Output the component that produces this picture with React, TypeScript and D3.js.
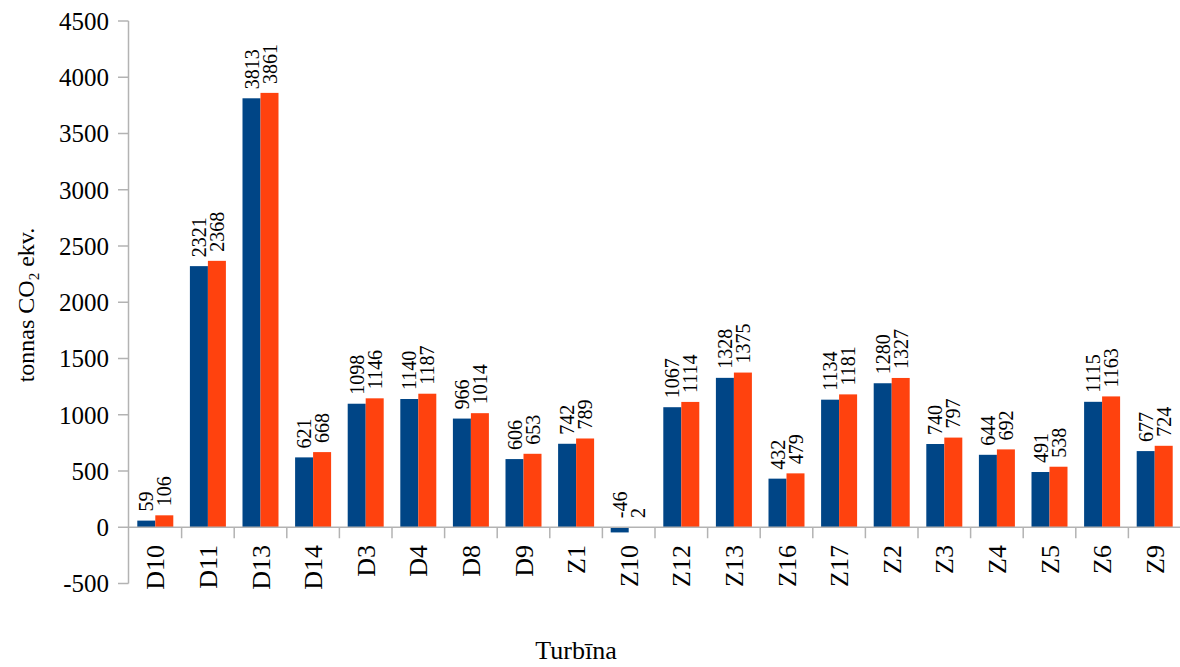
import React from "react";
import * as d3 from "d3";

const categories = ["D10","D11","D13","D14","D3","D4","D8","D9","Z1","Z10","Z12","Z13","Z16","Z17","Z2","Z3","Z4","Z5","Z6","Z9"];
const seriesA = [59,2321,3813,621,1098,1140,966,606,742,-46,1067,1328,432,1134,1280,740,644,491,1115,677];
const seriesB = [106,2368,3861,668,1146,1187,1014,653,789,2,1114,1375,479,1181,1327,797,692,538,1163,724];
const yTicks = [-500,0,500,1000,1500,2000,2500,3000,3500,4000,4500];
const colors = ["#004586", "#ff420e"];

export default function App() {
  const W = 1180, H = 667;
  const x = d3.scaleBand<string>().domain(categories).range([129, 1181]).padding(0);
  const y = d3.scaleLinear().domain([-500, 4500]).range([583.5, 21]);
  const barW = 18;
  const axisColor = "#b3b3b3";
  const font = "'Liberation Serif', 'Times New Roman', serif";
  const series = [seriesA, seriesB];
  return (
    <svg width={W} height={H} style={{ position: "absolute", left: 0, top: 0, background: "#fff" }} fontFamily={font}>
      {/* y axis */}
      <line x1={128.5} x2={128.5} y1={y(4500)} y2={y(-500)} stroke={axisColor} strokeWidth={1.5} />
      {yTicks.map(t => (
        <g key={t}>
          <line x1={118} x2={128.5} y1={y(t)} y2={y(t)} stroke={axisColor} strokeWidth={1.5} />
          <text x={109} y={y(t)} dy="0.35em" textAnchor="end" fontSize={25} fill="#000">{t}</text>
        </g>
      ))}
      {/* bars */}
      {categories.map((c, i) => {
        const cx = (x(c) as number) + x.bandwidth() / 2;
        return (
          <g key={c}>
            {series.map((s, j) => {
              const v = s[i];
              const bx = cx - barW + j * barW;
              const y0 = y(Math.max(0, v));
              const y1 = y(Math.min(0, v));
              return <rect key={j} x={bx} y={y0} width={barW} height={Math.max(0.8, y1 - y0)} fill={colors[j]} />;
            })}
            {series.map((s, j) => {
              const v = s[i];
              const lx = cx - barW / 2 + j * barW;
              const ly = y(Math.max(0, v)) - 9;
              return (
                <text key={"l" + j} transform={`translate(${lx},${ly}) rotate(-90)`} dy="0.35em" fontSize={20} fill="#000">{v}</text>
              );
            })}
          </g>
        );
      })}
      {/* x axis */}
      <line x1={128.5} x2={1181} y1={y(0)} y2={y(0)} stroke={axisColor} strokeWidth={1.5} />
      {categories.map((c, i) => (
        i > 0 ? <line key={"t" + c} x1={x(c)} x2={x(c)} y1={y(0)} y2={y(0) + 11} stroke={axisColor} strokeWidth={1.5} /> : null
      ))}
      {categories.map(c => {
        const cx = (x(c) as number) + x.bandwidth() / 2;
        return (
          <text key={"c" + c} transform={`translate(${cx},545) rotate(-90)`} dy="0.35em" textAnchor="end" fontSize={26} fill="#000">{c}</text>
        );
      })}
      {/* titles */}
      <text x={576} y={659} textAnchor="middle" fontSize={26} fill="#000">Turbīna</text>
      <text transform="translate(34,305) rotate(-90)" textAnchor="middle" fontSize={24} fill="#000">
        tonnas CO<tspan dy="5" fontSize={15}>2</tspan><tspan dy="-5"> ekv.</tspan>
      </text>
    </svg>
  );
}
